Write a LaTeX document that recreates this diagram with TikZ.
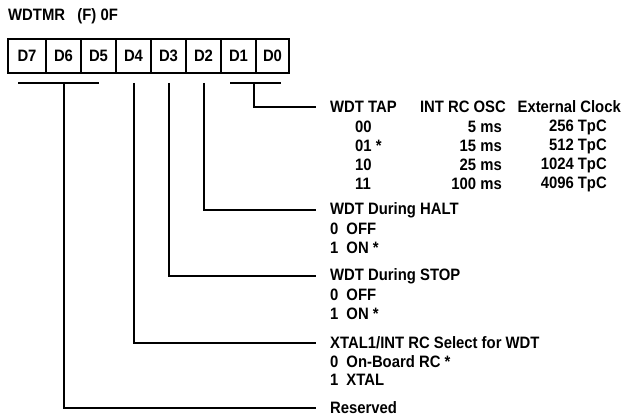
\documentclass[tikz,border=0pt]{standalone}
\usepackage{fontspec}
\setmainfont{Liberation Sans}[FakeStretch=0.9]
\begin{document}
\begin{tikzpicture}[x=1pt,y=-1pt,
  txt/.style={inner sep=0pt,font=\fontsize{16.5}{19}\selectfont\bfseries},
  lbl/.style={txt,anchor=west},
  rlbl/.style={txt,anchor=east},
  bit/.style={draw,line width=2pt,minimum width=35pt,minimum height=34pt,inner sep=0pt,anchor=north west,font=\fontsize{16.5}{19}\selectfont\bfseries},
  wire/.style={line width=2pt}]
\useasboundingbox (0,0) rectangle (625,417);
\node[lbl] (title) at (8,16) {WDTMR\ \ \ (F) 0F};
\node[bit,minimum width=38pt] (d7) at (7,38) {D7};
\node[bit] (d6) at (45,38) {D6};
\node[bit] (d5) at (80,38) {D5};
\node[bit] (d4) at (115,38) {D4};
\node[bit] (d3) at (150,38) {D3};
\node[bit] (d2) at (185,38) {D2};
\node[bit] (d1) at (220,38) {D1};
\node[bit,minimum width=33pt] (d0) at (255,38) {D0};
% bars
\coordinate (b7) at (18,83); \coordinate (b5) at (99,83);
\coordinate (b1) at (230,83); \coordinate (b0) at (281,83);
\draw[wire] (b7) -- (b5);
\draw[wire] (b1) -- (b0);
% text
\node[lbl] (tap) at (330,107) {WDT TAP};
\node[rlbl] (intrc) at (506,107) {INT RC OSC};
\node[rlbl] (ext) at (621,107) {External Clock};
\node[lbl] (r0) at (355,127) {00};
\node[lbl] (r1) at (355,146) {01 *};
\node[lbl] (r2) at (355,165) {10};
\node[lbl] (r3) at (355,184) {11};
\node[rlbl] (m0) at (502,127) {5 ms};
\node[rlbl] (m1) at (502,146) {15 ms};
\node[rlbl] (m2) at (502,165) {25 ms};
\node[rlbl] (m3) at (502,184) {100 ms};
\node[rlbl] (t0) at (607,127) {256 TpC};
\node[rlbl] (t1) at (607,146) {512 TpC};
\node[rlbl] (t2) at (607,165) {1024 TpC};
\node[rlbl] (t3) at (607,184) {4096 TpC};
\node[lbl] (halt) at (330,210) {WDT During HALT};
\node[lbl] (h0) at (330,229) {0\hspace{8pt}OFF};
\node[lbl] (h1) at (330,248) {1\hspace{8pt}ON *};
\node[lbl] (stop) at (330,276) {WDT During STOP};
\node[lbl] (s0) at (330,295) {0\hspace{8pt}OFF};
\node[lbl] (s1) at (330,314) {1\hspace{8pt}ON *};
\node[lbl] (xtal) at (330,343) {XTAL1/INT RC Select for WDT};
\node[lbl] (x0) at (330,362) {0\hspace{8pt}On-Board RC *};
\node[lbl] (x1) at (330,380) {1\hspace{8pt}XTAL};
\node[lbl] (res) at (330,408) {Reserved};
% connectors
\draw[wire] (254,83) |- ([xshift=-14pt]tap.west);
\draw[wire] (d2.south |- 0,83) |- ([xshift=-14pt]halt.west);
\draw[wire] (d3.south |- 0,83) |- ([xshift=-14pt]stop.west);
\draw[wire] (d4.south |- 0,83) |- ([xshift=-14pt]xtal.west);
\draw[wire] (d6.south |- 0,83) |- ([xshift=-14pt]res.west);
\end{tikzpicture}
\end{document}
